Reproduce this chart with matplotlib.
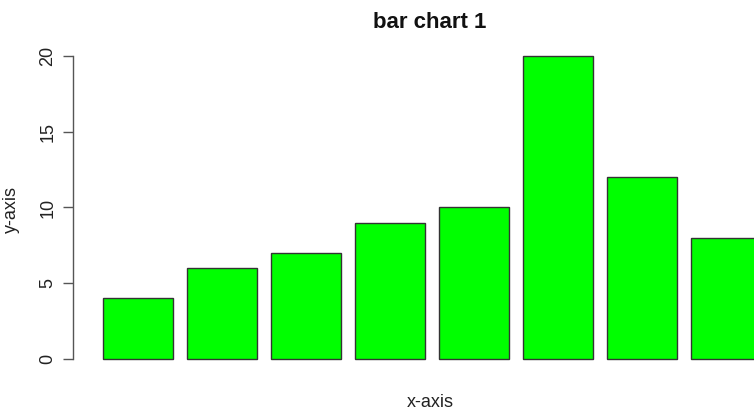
import numpy as np
import matplotlib
matplotlib.use('Agg')
import matplotlib.pyplot as plt

plt.rcParams['font.family'] = ['Liberation Sans', 'DejaVu Sans']

values = [4, 6, 7, 9, 10, 20, 12, 8]
yticks = [0, 5, 10, 15, 20]

W, H = 754, 411
fig = plt.figure(figsize=(W / 100, H / 100), dpi=100)

# axes placed in pixel terms (R-like plot region, right side cropped)
left_px, right_px = 73, 754
bottom_px, top_px = 371, 44
ax = fig.add_axes([left_px / W, (H - bottom_px) / H,
                   (right_px - left_px) / W, (bottom_px - top_px) / H])

# R barplot geometry: width 1, space 0.2
lefts = 0.2 + 1.2 * np.arange(len(values))
ax.bar(lefts, values, width=1.0, align='edge', color='#00ff00',
       edgecolor='#333333', linewidth=1.0)

x0 = -16 / 70
ax.set_xlim(x0, x0 + (right_px - left_px) / 70)
ax.set_ylim(-0.8, 20.8)

for s in ['top', 'right', 'bottom']:
    ax.spines[s].set_visible(False)
ax.spines['left'].set_bounds(0, 20)
ax.spines['left'].set_color('#555555')
ax.spines['left'].set_linewidth(1.0)
ax.set_xticks([])
ax.set_yticks(yticks)
ax.set_yticklabels([str(t) for t in yticks], rotation=90, va='center',
                   fontsize=13, color='#222222')
ax.tick_params(axis='y', length=7, width=1.0, color='#555555', pad=5)

fig.text(430 / W, 1 - 22 / H, 'bar chart 1', ha='center', va='center',
         fontsize=16, fontweight='bold', color='#111111')
fig.text(430 / W, 1 - 402 / H, 'x-axis', ha='center', va='center',
         fontsize=13, color='#222222')
fig.text(11 / W, 1 - 209 / H, 'y-axis', ha='center', va='center',
         rotation=90, fontsize=13, color='#222222')

fig.savefig('out.png', dpi=100)
